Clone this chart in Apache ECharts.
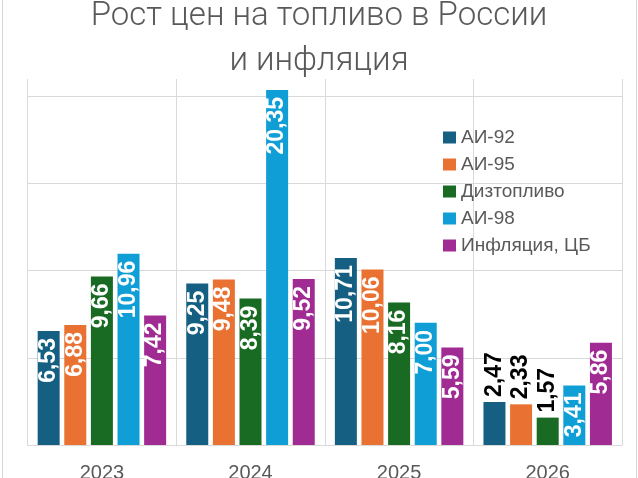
<!DOCTYPE html>
<html>
<head>
<meta charset="utf-8">
<script src="https://cdn.jsdelivr.net/npm/echarts@6/dist/echarts.min.js"></script>
<style>
html,body{margin:0;padding:0;background:#fff;overflow:hidden;}
#c{width:638px;height:478px;}
</style>
</head>
<body>
<div id="c"></div>
<script>
const categories = ['2023', '2024', '2025', '2026'];
const seriesNames = ['АИ-92', 'АИ-95', 'Дизтопливо', 'АИ-98', 'Инфляция, ЦБ'];
const ai92 = [6.53, 9.25, 10.71, 2.47];
const ai95 = [6.88, 9.48, 10.06, 2.33];
const diesel = [9.66, 8.39, 8.16, 1.57];
const ai98 = [10.96, 20.35, 7.00, 3.41];
const inflation = [7.42, 9.52, 5.59, 5.86];
const yTicks = [0, 5, 10, 15, 20];

const values = [ai92, ai95, diesel, ai98, inflation];
const colors = ['#156082', '#E97132', '#196B24', '#0F9ED5', '#A02B93'];

function fmt(v) { return v.toFixed(2).replace('.', ','); }

const chart = echarts.init(document.getElementById('c'), null, {renderer: 'canvas'});

const series = values.map((arr, i) => ({
  name: seriesNames[i],
  type: 'bar',
  xAxisIndex: 0,
  yAxisIndex: 0,
  barWidth: 22,
  barGap: '21%',
  clip: false,
  itemStyle: {color: colors[i]},
  data: arr.map(v => {
    const outside = v < 3;
    return {
      value: v,
      label: outside ? {
        show: true, position: 'top', rotate: 90, align: 'left', verticalAlign: 'middle',
        distance: 5, color: '#000'
      } : {
        show: true, position: 'insideTop', rotate: 90, align: 'right', verticalAlign: 'middle',
        distance: 7, color: '#fff'
      }
    };
  }),
  label: {
    show: true,
    formatter: p => fmt(p.value),
    fontFamily: 'Liberation Sans, Arial, sans-serif',
    fontWeight: 'bold',
    fontSize: 23
  }
}));

chart.setOption({
  animation: false,
  backgroundColor: '#fff',
  title: {
    text: 'Рост цен на топливо в России\nи инфляция',
    left: 'center',
    top: -11,
    textStyle: {
      fontFamily: 'Roboto',
      fontWeight: 300,
      fontSize: 33,
      lineHeight: 45,
      color: '#595959'
    }
  },
  legend: {
    orient: 'vertical',
    left: 438,
    top: 123,
    itemWidth: 13,
    itemHeight: 12,
    itemGap: 8,
    icon: 'rect',
    data: seriesNames,
    textStyle: {
      fontFamily: 'Liberation Sans, Arial, sans-serif',
      fontSize: 19,
      lineHeight: 19,
      color: '#595959'
    }
  },
  graphic: [{
    type: 'rect',
    shape: {x: 2.5, y: -2, width: 634, height: 484},
    style: {fill: 'none', stroke: '#d6d6d6', lineWidth: 1},
    silent: true
  }],
  grid: [
    {left: 27.6, right: 16, top: 96, bottom: 33, containLabel: false, outerBoundsMode: 'none'},
    {left: 27.6, right: 16, top: 79, bottom: 33, containLabel: false, outerBoundsMode: 'none'}
  ],
  xAxis: [
    {
      type: 'category', gridIndex: 0, data: categories,
      axisLine: {show: true, lineStyle: {color: '#d9d9d9'}},
      axisTick: {show: false},
      splitLine: {show: false},
      axisLabel: {
        margin: 18,
        fontFamily: 'Liberation Sans, Arial, sans-serif',
        fontSize: 20,
        color: '#595959'
      }
    },
    {
      type: 'category', gridIndex: 1, data: categories,
      axisLine: {show: false}, axisTick: {show: false}, axisLabel: {show: false},
      splitLine: {show: true, lineStyle: {color: '#d9d9d9'}}
    }
  ],
  yAxis: [
    {
      type: 'value', gridIndex: 0, min: yTicks[0], max: yTicks[yTicks.length - 1], interval: 5,
      axisLine: {show: false}, axisTick: {show: false}, axisLabel: {show: false},
      splitLine: {show: true, lineStyle: {color: '#d9d9d9'}}
    },
    {
      type: 'value', gridIndex: 1, min: 0, max: 1,
      axisLine: {show: false}, axisTick: {show: false}, axisLabel: {show: false},
      splitLine: {show: false}
    }
  ],
  series: series
});
</script>
</body>
</html>
